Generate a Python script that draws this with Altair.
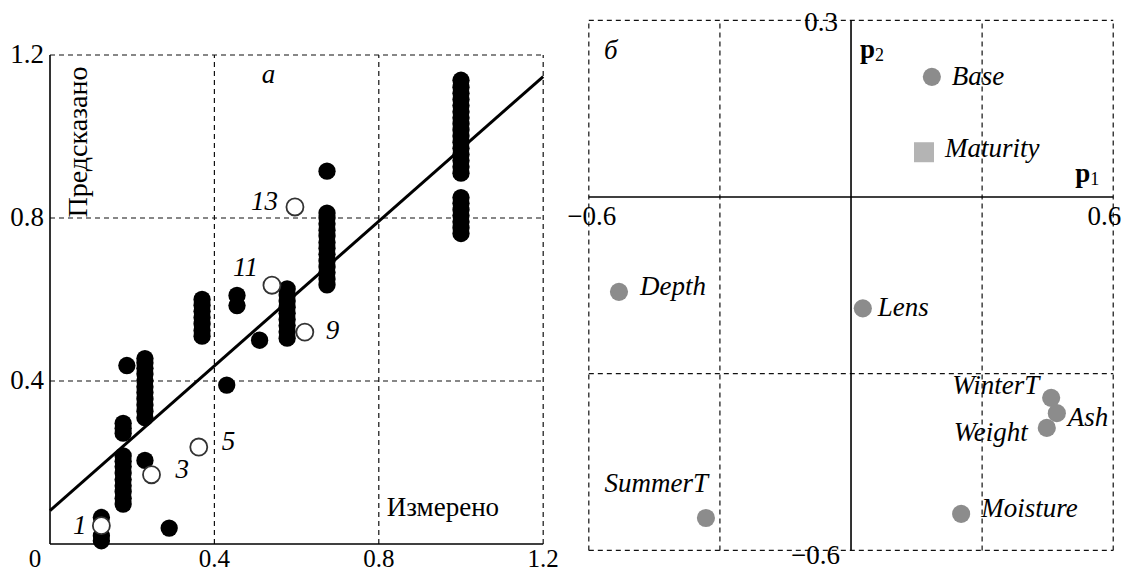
import altair as alt
import pandas as pd

FONT = "Liberation Serif"

# ---------------- panel а : measured vs predicted ----------------
col_meas = [0.125, 0.178, 0.231, 0.370, 0.577, 0.674, 1.000]
col_pred = [
    [0.008, 0.020, 0.065],
    [0.098, 0.112, 0.128, 0.143, 0.158, 0.174, 0.190, 0.203, 0.216, 0.272, 0.284, 0.296],
    [0.310, 0.326, 0.341, 0.356, 0.372, 0.386, 0.401, 0.417, 0.431, 0.445, 0.455],
    [0.510, 0.524, 0.540, 0.556, 0.571, 0.586, 0.600],
    [0.505, 0.521, 0.536, 0.551, 0.566, 0.581, 0.596, 0.611, 0.626],
    [0.636, 0.650, 0.666, 0.680, 0.695, 0.711, 0.726, 0.740, 0.756, 0.770, 0.786, 0.800, 0.812, 0.915],
    [0.762, 0.776, 0.791, 0.806, 0.820, 0.836, 0.850, 0.910, 0.926, 0.941, 0.956, 0.971,
     0.986, 1.001, 1.016, 1.031, 1.046, 1.061, 1.076, 1.091, 1.106, 1.121, 1.138],
]
single_meas = [0.187, 0.231, 0.290, 0.430, 0.455, 0.455, 0.510]
single_pred = [0.438, 0.205, 0.039, 0.390, 0.585, 0.610, 0.500]
open_ids = ["1", "3", "5", "9", "11", "13"]
open_meas = [0.125, 0.247, 0.362, 0.620, 0.540, 0.596]
open_pred = [0.045, 0.170, 0.238, 0.520, 0.635, 0.827]
fit_meas = [0.0, 1.2]
fit_pred = [0.082, 1.147]
a_ticks = [0.4, 0.8, 1.2]
a_tick_labels = ["0.4", "0.8", "1.2"]

# ---------------- panel б : loadings ----------------
var_names = ["Base", "Depth", "Lens", "WinterT", "Ash", "Weight", "Moisture", "SummerT"]
var_p1 = [0.185, -0.531, 0.027, 0.458, 0.471, 0.448, 0.252, -0.332]
var_p2 = [0.204, -0.161, -0.189, -0.341, -0.367, -0.392, -0.538, -0.545]
sq_names = ["Maturity"]
sq_p1 = [0.167]
sq_p2 = [0.076]
b_xticks = [-0.6, -0.3, 0.3, 0.6]
b_yticks = [0.3, -0.3, -0.6]

# ---------------- layout ----------------
W_A, W_B, H = 552, 557, 565
xa = alt.Scale(domain=[-0.1022, 1.2409], nice=False, zero=False)
ya = alt.Scale(domain=[-0.07117, 1.3153], nice=False, zero=False)
xb = alt.Scale(domain=[-0.6545, 0.6201], nice=False, zero=False)
yb = alt.Scale(domain=[-0.63837, 0.32088], nice=False, zero=False)

DASH = dict(strokeDash=[5, 4], strokeWidth=1.2, color="#111")
SOLID = dict(strokeWidth=1.6, color="#000")


def pos(ch, xs, ys, **kw):
    return ch.encode(x=alt.X("x:Q", scale=xs, axis=None),
                     y=alt.Y("y:Q", scale=ys, axis=None), **kw)


def txt(df, xs, ys, **style):
    base = dict(font=FONT, fontSize=27, color="#000", clip=True)
    base.update(style)
    return pos(alt.Chart(df).mark_text(**base), xs, ys, text="t:N")


# ----- panel а layers -----
lo_a, hi_a = 0.0, 1.2
a_layers = []
a_layers.append(pos(alt.Chart(pd.DataFrame({"x": a_ticks, "y": lo_a, "y2": hi_a})).mark_rule(**DASH), xa, ya, y2="y2:Q"))
a_layers.append(pos(alt.Chart(pd.DataFrame({"y": a_ticks, "x": lo_a, "x2": hi_a})).mark_rule(**DASH), xa, ya, x2="x2:Q"))
a_layers.append(pos(alt.Chart(pd.DataFrame({"x": [lo_a, lo_a], "y": [lo_a, lo_a], "x2": [hi_a, lo_a], "y2": [lo_a, hi_a]})).mark_rule(**SOLID),
                    xa, ya, x2="x2:Q", y2="y2:Q"))
a_layers.append(pos(alt.Chart(pd.DataFrame({"x": fit_meas, "y": fit_pred})).mark_line(color="#000", strokeWidth=3), xa, ya))

fx, fy = [], []
for xv, ys_ in zip(col_meas, col_pred):
    fx += [xv] * len(ys_)
    fy += ys_
fx += single_meas
fy += single_pred
a_layers.append(pos(alt.Chart(pd.DataFrame({"x": fx, "y": fy})).mark_circle(size=300, color="#000", opacity=1), xa, ya))
a_layers.append(pos(alt.Chart(pd.DataFrame({"x": open_meas, "y": open_pred})).mark_point(
    shape="circle", size=290, filled=True, fill="#fff", stroke="#333", strokeWidth=1.8, opacity=1), xa, ya))

open_style = {
    "1": dict(align="right", dx=-15, dy=0),
    "3": dict(align="left", dx=24, dy=-5),
    "5": dict(align="left", dx=23, dy=-5),
    "9": dict(align="left", dx=21, dy=-1),
    "11": dict(align="right", dx=-14, dy=-17),
    "13": dict(align="right", dx=-17, dy=-5),
}
for i, lab in enumerate(open_ids):
    a_layers.append(txt(pd.DataFrame({"x": [open_meas[i]], "y": [open_pred[i]], "t": [lab]}), xa, ya,
                        fontStyle="italic", baseline="middle", **open_style[lab]))

# tick labels
a_layers.append(txt(pd.DataFrame({"x": lo_a, "y": a_ticks, "t": a_tick_labels}), xa, ya,
                    align="right", baseline="middle", dx=-6))
a_layers.append(txt(pd.DataFrame({"x": a_ticks, "y": lo_a, "t": a_tick_labels}), xa, ya,
                    align="center", baseline="middle", fontSize=25, dx=0, dy=15))
a_layers.append(txt(pd.DataFrame({"x": [lo_a], "y": [lo_a], "t": ["0"]}), xa, ya,
                    align="center", baseline="middle", fontSize=25, dx=-15, dy=15))
# annotations (rotated text: dx runs along the text, dy across it)
a_layers.append(txt(pd.DataFrame({"x": [lo_a], "y": [hi_a], "t": ["Предсказано"]}), xa, ya,
                    angle=270, fontSize=28, align="center", baseline="middle", dx=-87, dy=29))
a_layers.append(txt(pd.DataFrame({"x": [0.8], "y": [lo_a], "t": ["Измерено"]}), xa, ya,
                    align="left", baseline="middle", dx=8, dy=-36))
a_layers.append(txt(pd.DataFrame({"x": [0.4], "y": [hi_a], "t": ["а"]}), xa, ya,
                    fontStyle="italic", align="center", baseline="middle", dx=54, dy=20))

panel_a = alt.layer(*a_layers).properties(width=W_A, height=H)

# ----- panel б layers -----
xl, xh, yl, yh = -0.6, 0.6, -0.6, 0.3
b_layers = []
b_layers.append(pos(alt.Chart(pd.DataFrame({"x": b_xticks, "y": yl, "y2": yh})).mark_rule(**DASH), xb, yb, y2="y2:Q"))
b_layers.append(pos(alt.Chart(pd.DataFrame({"y": b_yticks, "x": xl, "x2": xh})).mark_rule(**DASH), xb, yb, x2="x2:Q"))
b_layers.append(pos(alt.Chart(pd.DataFrame({"x": [xl, 0.0], "y": [0.0, yl], "x2": [xh, 0.0], "y2": [0.0, yh]})).mark_rule(**SOLID),
                    xb, yb, x2="x2:Q", y2="y2:Q"))
b_layers.append(pos(alt.Chart(pd.DataFrame({"x": var_p1, "y": var_p2})).mark_circle(size=330, color="#8c8c8c", opacity=1), xb, yb))
b_layers.append(pos(alt.Chart(pd.DataFrame({"x": sq_p1, "y": sq_p2})).mark_square(size=400, color="#b4b4b4", opacity=1), xb, yb))

var_style = {
    "Base": dict(align="left", dx=20, dy=0),
    "Maturity": dict(align="left", dx=21, dy=-3),
    "Depth": dict(align="left", dx=21, dy=-5),
    "Lens": dict(align="left", dx=15, dy=0),
    "Moisture": dict(align="left", dx=20, dy=-5),
    "Ash": dict(align="left", dx=11, dy=5),
    "WinterT": dict(align="right", dx=-12, dy=-12),
    "Weight": dict(align="right", dx=-19, dy=5),
    "SummerT": dict(align="right", dx=2, dy=-34),
}
for n, px_, py_ in list(zip(var_names, var_p1, var_p2)) + list(zip(sq_names, sq_p1, sq_p2)):
    b_layers.append(txt(pd.DataFrame({"x": [px_], "y": [py_], "t": [n]}), xb, yb,
                        fontStyle="italic", baseline="middle", **var_style[n]))

# tick labels
b_layers.append(txt(pd.DataFrame({"x": [0.0], "y": [yh], "t": ["0.3"]}), xb, yb,
                    align="right", baseline="middle", dx=-13, dy=3))
b_layers.append(txt(pd.DataFrame({"x": [0.0], "y": [yl], "t": ["\u22120.6"]}), xb, yb,
                    align="right", baseline="middle", dx=-11, dy=6))
b_layers.append(txt(pd.DataFrame({"x": [xl], "y": [0.0], "t": ["\u22120.6"]}), xb, yb,
                    align="center", baseline="middle", dx=3, dy=20))
b_layers.append(txt(pd.DataFrame({"x": [xh], "y": [0.0], "t": ["0.6"]}), xb, yb,
                    align="right", baseline="middle", dx=8, dy=20))
# axis names
b_layers.append(txt(pd.DataFrame({"x": [0.0], "y": [yh], "t": ["p"]}), xb, yb,
                    align="left", baseline="middle", fontWeight="bold", dx=9, dy=30))
b_layers.append(txt(pd.DataFrame({"x": [0.0], "y": [yh], "t": ["2"]}), xb, yb,
                    align="left", baseline="middle", fontSize=18, dx=24, dy=36))
b_layers.append(txt(pd.DataFrame({"x": [xh], "y": [0.0], "t": ["p"]}), xb, yb,
                    align="left", baseline="middle", fontWeight="bold", dx=-38, dy=-23))
b_layers.append(txt(pd.DataFrame({"x": [xh], "y": [0.0], "t": ["1"]}), xb, yb,
                    align="left", baseline="middle", fontSize=18, dx=-23, dy=-17))
b_layers.append(txt(pd.DataFrame({"x": [xl], "y": [yh], "t": ["б"]}), xb, yb,
                    fontStyle="italic", align="center", baseline="middle", dx=22, dy=31))

panel_b = alt.layer(*b_layers).properties(width=W_B, height=H)

chart = alt.hconcat(panel_a, panel_b, spacing=5).properties(padding=0).configure_view(stroke=None)

chart.save("out.html", embed_options={"renderer": "svg", "actions": False})
